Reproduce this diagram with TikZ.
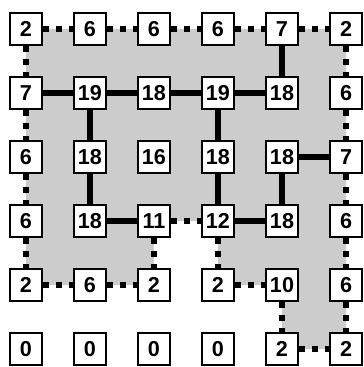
\documentclass[tikz,border=0pt]{standalone}
\usepackage{fontspec}
\setmainfont{Liberation Sans}

\begin{document}
\begin{tikzpicture}[x=1cm,y=1cm,
  cell/.style={draw,fill=white,line width=0.9pt,minimum size=0.5cm,inner sep=0pt,font=\bfseries\fontsize{9.6}{10}\selectfont},
  tie/.style={line width=2.5pt},
  rim/.style={line width=2.45pt,dash pattern=on 2.45pt off 3.4pt}]
  \useasboundingbox (-0.406,-5.281) rectangle (5.266,0.453);
  % shaded region
  \fill[gray!40] (0,0)--(5,0)--(5,-5)--(4,-5)--(4,-4)--(3,-4)--(3,-3)--(2,-3)--(2,-4)--(0,-4)--cycle;
  % grid of values
  \foreach \row [count=\j from 0] in {{2,6,6,6,7,2},{7,19,18,19,18,6},{6,18,16,18,18,7},{6,18,11,12,18,6},{2,6,2,2,10,6},{0,0,0,0,2,2}}
    \foreach \v [count=\i from 0] in \row
      \node[cell] (n\i\j) at (\i,-\j) {\v};
  % dotted boundary
  \foreach \a/\b in {n00/n10,n10/n20,n20/n30,n30/n40,n40/n50,
                     n00/n01,n01/n02,n02/n03,n03/n04,n04/n14,n14/n24,
                     n23/n24,n23/n33,n33/n34,n34/n44,n44/n45,n45/n55,
                     n50/n51,n51/n52,n52/n53,n53/n54,n54/n55}
    \draw[rim] (\a)--(\b);
  % solid links
  \foreach \a/\b in {n01/n11,n11/n21,n21/n31,n31/n41,n40/n41,
                     n11/n12,n12/n13,n13/n23,n31/n32,n32/n33,
                     n33/n43,n42/n43,n42/n52}
    \draw[tie] (\a)--(\b);
\end{tikzpicture}
\end{document}
